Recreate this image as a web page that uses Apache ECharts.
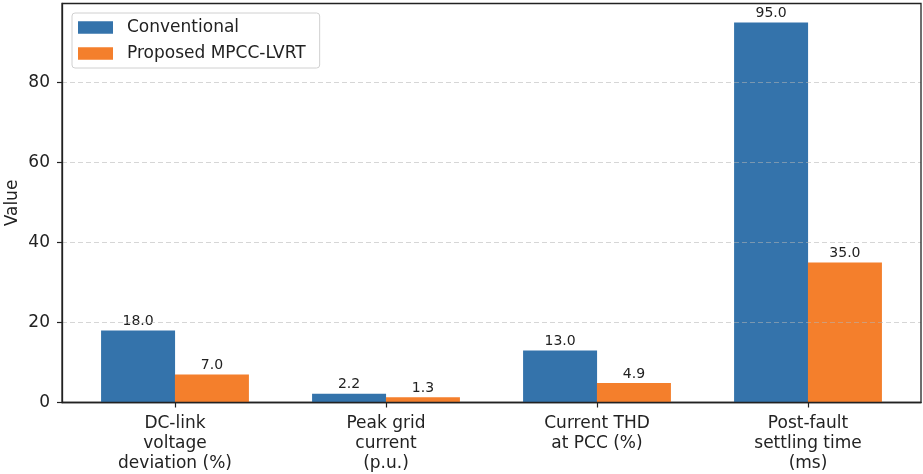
<!DOCTYPE html>
<html>
<head>
<meta charset="utf-8">
<script src="https://cdn.jsdelivr.net/npm/echarts@6/dist/echarts.min.js"></script>
<style>html,body{margin:0;padding:0;background:#fff}#c{width:923px;height:474px}</style>
</head>
<body>
<div id="c"></div>
<script>
const categories = ["DC-link\nvoltage\ndeviation (%)", "Peak grid\ncurrent\n(p.u.)", "Current THD\nat PCC (%)", "Post-fault\nsettling time\n(ms)"];
const seriesNames = ["Conventional", "Proposed MPCC-LVRT"];
const conventional = [18.0, 2.2, 13.0, 95.0];
const proposed = [7.0, 1.3, 4.9, 35.0];
const yTicks = [0, 20, 40, 60, 80];
const categoryPositions = [0, 1, 2, 3];

const barW = 0.35;
const FONT = "DejaVu Sans";
const chart = echarts.init(document.getElementById('c'), null, {renderer: 'canvas'});
const toPts = (arr, off) => arr.map((v, i) => [categoryPositions[i] + off, v]);
const mkSeries = (name, arr, off, color) => ({
  name, type: 'bar', data: toPts(arr, off), barWidth: 74, barGap: '-100%',
  itemStyle: {color},
  label: {show: true, position: 'top', distance: 2, formatter: p => p.value[1].toFixed(1),
    fontFamily: FONT, fontSize: 14, color: '#222'}
});
chart.setOption({
  animation: false,
  grid: {left: 62, right: 2, top: 3.5, bottom: 71.5, show: true, borderColor: '#222', borderWidth: 1.3, z: 10,
    containLabel: false, outerBoundsMode: 'none'},
  legend: {
    orient: 'vertical', left: 72, top: 13, padding: [6, 14, 6, 6], itemGap: 9,
    itemWidth: 35, itemHeight: 12.5, icon: 'rect',
    borderColor: '#d0d0d0', borderWidth: 1, borderRadius: 3, backgroundColor: 'rgba(255,255,255,0.85)',
    textStyle: {fontFamily: FONT, fontSize: 17, color: '#222', lineHeight: 17, padding: [0, 0, 0, 9]},
    data: seriesNames
  },
  xAxis: {
    type: 'value', min: -0.5355, max: 3.5355,
    axisLine: {show: true, onZero: false, lineStyle: {color: '#222', width: 1.3}},
    axisTick: {show: true, length: 5, customValues: categoryPositions, lineStyle: {color: '#222', width: 1.2}},
    axisLabel: {customValues: categoryPositions, formatter: v => categories[Math.round(v)],
      fontFamily: FONT, fontSize: 17, color: '#222', lineHeight: 20, margin: 11},
    splitLine: {show: false}
  },
  yAxis: {
    type: 'value', min: 0, max: 99.75, interval: 20, z: 5,
    name: 'Value', nameLocation: 'middle', nameGap: 41, nameMoveOverlap: false,
    nameTextStyle: {fontFamily: FONT, fontSize: 17, color: '#222'},
    axisLine: {show: true, onZero: false, lineStyle: {color: '#222', width: 1.3}},
    axisTick: {show: true, length: 5, customValues: yTicks, lineStyle: {color: '#222', width: 1.2}},
    axisLabel: {customValues: yTicks, fontFamily: FONT, fontSize: 17, color: '#222', margin: 12},
    splitLine: {show: true, lineStyle: {color: 'rgba(180,180,180,0.55)', type: [5, 3], width: 1}}
  },
  series: [
    mkSeries(seriesNames[0], conventional, -barW / 2, '#3473ab'),
    mkSeries(seriesNames[1], proposed, barW / 2, '#f47f2c')
  ]
});
</script>
</body>
</html>
